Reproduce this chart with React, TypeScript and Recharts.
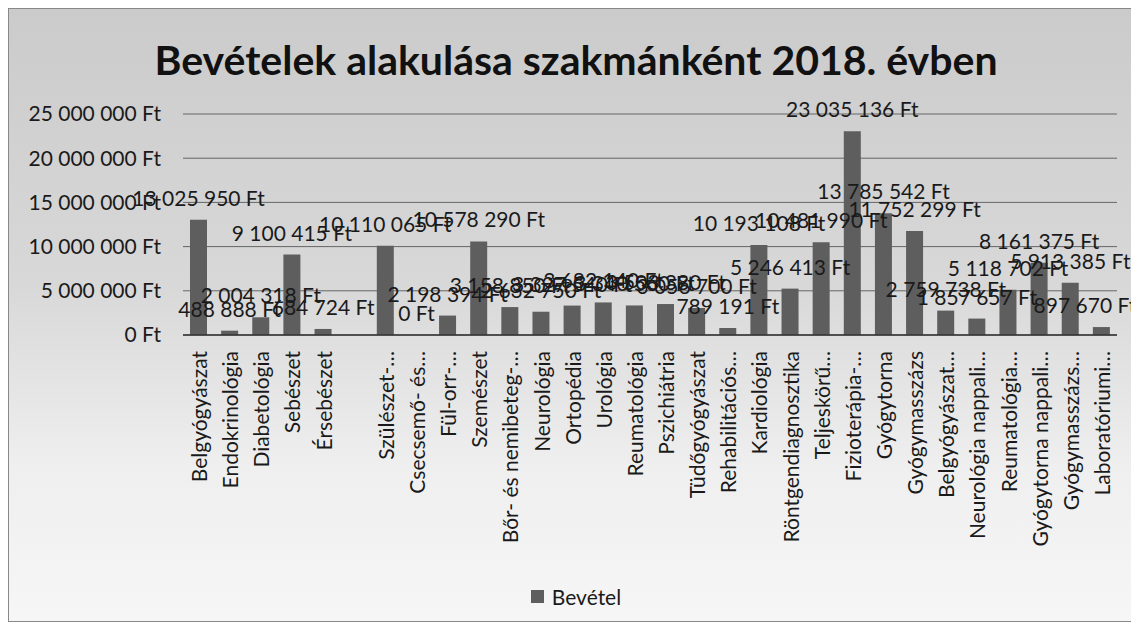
import React from "react";
import { ComposedChart, Bar, Line, XAxis, YAxis, CartesianGrid, Legend, LabelList } from "recharts";

const CATEGORIES = [
  "Belgyógyászat",
  "Endokrinológia",
  "Diabetológia",
  "Sebészet",
  "Érsebészet",
  "",
  "Szülészet-…",
  "Csecsemő- és…",
  "Fül-orr-…",
  "Szemészet",
  "Bőr- és nemibeteg-…",
  "Neurológia",
  "Ortopédia",
  "Urológia",
  "Reumatológia",
  "Pszichiátria",
  "Tüdőgyógyászat",
  "Rehabilitációs…",
  "Kardiológia",
  "Röntgendiagnosztika",
  "Teljeskörű…",
  "Fizioterápia-…",
  "Gyógytorna",
  "Gyógymasszázs",
  "Belgyógyászat…",
  "Neurológia nappali…",
  "Reumatológia…",
  "Gyógytorna nappali…",
  "Gyógymasszázs…",
  "Laboratóriumi…",
];

const REVENUE: (number | null)[] = [
  13025950, 488888, 2004318, 9100415, 684724, null, 10110065, 0, 2198394, 10578290,
  3158850, 2632750, 3327540, 3682140, 3340560, 3503380, 3056700, 789191, 10193108, 5246413,
  10481990, 23035136, 13785542, 11752299, 2759738, 1857657, 5118702, 8161375, 5913385, 897670,
];

const Y_TICKS = [0, 5000000, 10000000, 15000000, 20000000, 25000000];

const FONT = "Lato, 'Open Sans', sans-serif";
const CHART_W = 1128;

const fmt = (v: number) => String(v).replace(/\B(?=(\d{3})+(?!\d))/g, " ") + " Ft";

const data = CATEGORIES.map((name, i) => ({ name, value: REVENUE[i] }));

function RotatedTick({ x, y, payload }: any) {
  const ty = y + 8;
  return (
    <text
      x={x}
      y={ty}
      transform={`rotate(-90, ${x}, ${ty})`}
      textAnchor="end"
      dominantBaseline="central"
      fontSize={21}
      fontFamily={FONT}
      fill="#1a1a1a"
    >
      {payload.value}
    </text>
  );
}

// value label above each bar, on one line like Excel does (drawn off the hidden line so 0 gets one too)
function ValueLabel({ x, y, width, value }: any) {
  if (value == null) return null;
  const text = fmt(value);
  let cx = width ? x + width / 2 : x;
  // Excel pulls labels back inside the chart area at the right edge
  const half = (text.length * 10) / 2;
  if (cx + half > CHART_W - 2) cx = CHART_W - 2 - half;
  return (
    <text x={cx} y={y - 14} textAnchor="middle" fontSize={21} fontFamily={FONT} fill="#1a1a1a">
      {text}
    </text>
  );
}

function LegendContent() {
  return (
    <div style={{ display: "flex", justifyContent: "center", alignItems: "center", gap: 8, fontFamily: FONT, fontSize: 21, color: "#1a1a1a", paddingLeft: 26, marginTop: 12 }}>
      <div style={{ width: 13, height: 13, background: "#5e5e5e" }} />
      <span>Bevétel</span>
    </div>
  );
}

export default function App() {
  return (
    <div
      style={{
        position: "relative",
        width: CHART_W,
        height: 612,
        border: "1px solid #888",
        background: "linear-gradient(180deg, #cbcbcb 0%, #d8d8d8 45%, #efefef 75%, #f6f6f6 100%)",
      }}
    >
      <div
        style={{
          position: "absolute",
          top: 26,
          left: 0,
          width: 1122,
          textAlign: "center",
          fontFamily: FONT,
          fontWeight: 700,
          fontSize: 41,
          color: "#111",
          paddingLeft: 12,
          boxSizing: "border-box",
        }}
      >
        Bevételek alakulása szakmánként 2018. évben
      </div>
      <ComposedChart
        width={CHART_W}
        height={612}
        data={data}
        margin={{ top: 105, right: 20, bottom: 12, left: 0 }}
        barSize={17}
      >
        <CartesianGrid vertical={false} stroke="#666" strokeWidth={1} />
        <XAxis
          dataKey="name"
          interval={0}
          height={237}
          tick={<RotatedTick />}
          tickLine={false}
          axisLine={{ stroke: "#333", strokeWidth: 1.5 }}
        />
        <YAxis
          width={174}
          domain={[0, 25000000]}
          ticks={Y_TICKS}
          tickFormatter={fmt}
          tickLine={false}
          axisLine={false}
          tickSize={0}
          tickMargin={22}
          tick={{ fontSize: 21, fontFamily: FONT, fill: "#1a1a1a" }}
        />
        <Legend verticalAlign="bottom" content={<LegendContent />} />
        <Bar dataKey="value" name="Bevétel" fill="#5e5e5e" isAnimationActive={false} />
        <Line
          dataKey="value"
          stroke="none"
          dot={false}
          activeDot={false}
          legendType="none"
          isAnimationActive={false}
        >
          <LabelList dataKey="value" content={<ValueLabel />} />
        </Line>
      </ComposedChart>
    </div>
  );
}
